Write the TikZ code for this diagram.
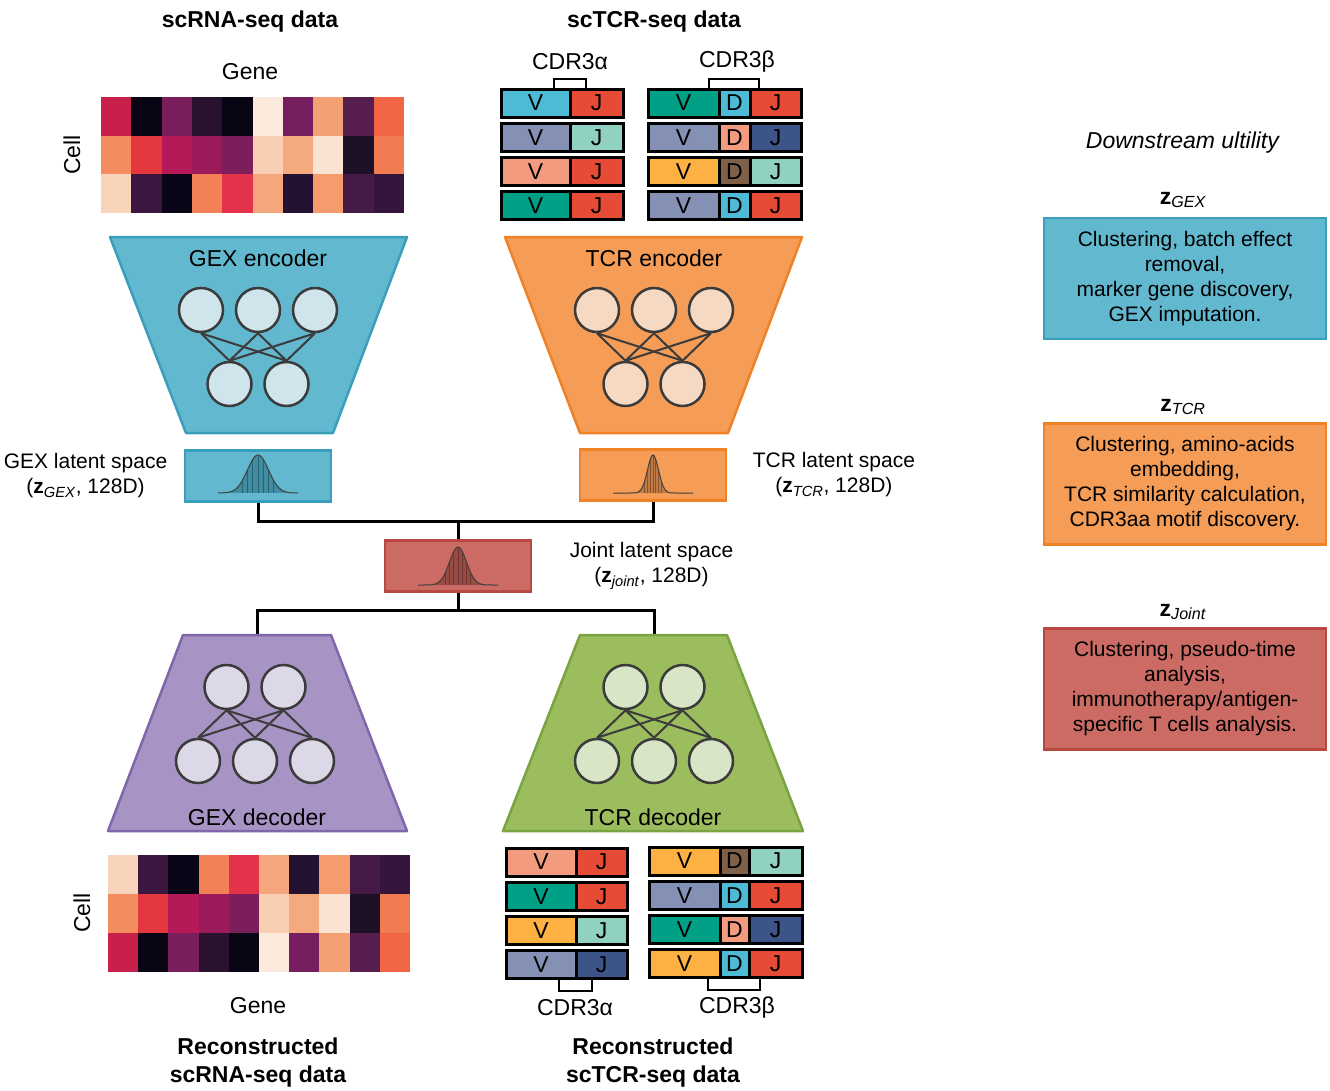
\documentclass[tikz,border=0pt]{standalone}
\usepackage{fontspec}
\setmainfont{Liberation Sans}
\usepackage{tikz}
\usetikzlibrary{positioning}
\definecolor{GexFill}{HTML}{62B8CF}
\definecolor{GexLine}{HTML}{3A9FBB}
\definecolor{GexCell}{HTML}{CFE4EB}
\definecolor{GexBell}{HTML}{3F8CA3}
\definecolor{TcrFill}{HTML}{F59D57}
\definecolor{TcrLine}{HTML}{EF8126}
\definecolor{TcrCell}{HTML}{F6D9C2}
\definecolor{TcrBell}{HTML}{C27A45}
\definecolor{JointFill}{HTML}{CC6B64}
\definecolor{JointLine}{HTML}{B84842}
\definecolor{JointBell}{HTML}{9A4A45}
\definecolor{PurpFill}{HTML}{A894C4}
\definecolor{PurpLine}{HTML}{7F67A9}
\definecolor{PurpCell}{HTML}{DDD8E7}
\definecolor{GreenFill}{HTML}{9CBD5E}
\definecolor{GreenLine}{HTML}{7AA443}
\definecolor{GreenCell}{HTML}{D8E5C6}
\definecolor{NeuronLine}{HTML}{3B3B3B}
\definecolor{SkyV}{HTML}{4DBBD5}
\definecolor{RedJ}{HTML}{E64B35}
\definecolor{TealV}{HTML}{00A087}
\definecolor{PeriV}{HTML}{8491B4}
\definecolor{MintJ}{HTML}{91D1C2}
\definecolor{SalmonV}{HTML}{F39B7F}
\definecolor{NavyJ}{HTML}{3C5488}
\definecolor{OrangeV}{HTML}{FDB143}
\definecolor{BrownD}{HTML}{7E6148}
\tikzset{
  Trap/.style = {line width=2.5pt, line join=round},
  Neuron/.style = {circle, draw=NeuronLine, line width=2.5pt, minimum size=44pt, inner sep=0pt},
  Wire/.style = {draw=NeuronLine, line width=2pt},
  LatBox/.style = {rectangle, line width=2.5pt, minimum width=146pt, minimum height=51pt},
  UseBox/.style = {rectangle, line width=2.5pt, minimum width=282pt, minimum height=121pt, align=center, font=\fontsize{21}{25}\selectfont},
  Seg/.style = {rectangle, draw=black, line width=3pt, minimum height=28pt, inner sep=0pt, outer sep=0pt, anchor=west},
  Link/.style = {draw=black, line width=3pt},
  Bracket/.style = {draw=black, line width=2.5pt},
  Title/.style = {font=\fontsize{23}{28}\selectfont\bfseries, align=center},
  Caption/.style = {font=\fontsize{21}{25}\selectfont, align=center}
}
\newcommand{\Net}[6]{%
  \foreach \i in {1,...,#3}
    \node[Neuron, fill=#6] (#1t\i) at ({#2+(\i-(#3+1)/2)*57},#5) {};
  \foreach \j in {1,...,#4}
    \node[Neuron, fill=#6] (#1b\j) at ({#2+(\j-(#4+1)/2)*57},#5+74) {};
  \foreach \i in {1,...,#3}
    \foreach \j in {1,...,#4}
      \draw[Wire] (#1t\i.south) -- (#1b\j.north);
}
\newcommand{\Bell}[4]{%
  \fill[#4] plot[domain=-40:40, samples=81] ({#1+\x},{#2-38*exp(-0.5*(\x/#3)*(\x/#3))}) -- cycle;
  \foreach \t in {-1.5,-1,...,1.5}
    \draw[#4!70!black, line width=0.6pt] ({#1+#3*\t},#2) -- ({#1+#3*\t},{#2-38*exp(-0.5*\t*\t)});
  \draw[black!75, line width=1pt] plot[domain=-40:40, samples=81] ({#1+\x},{#2-38*exp(-0.5*(\x/#3)*(\x/#3))});
}

\begin{document}
\begin{tikzpicture}[x=1pt, y=-1pt, font=\fontsize{23}{27}\selectfont]
\useasboundingbox (0,0) rectangle (1330,1090);

\node[Title] (rnatitle) at (250,22) {scRNA-seq data};
\node[Title] (tcrtitle) at (654,22) {scTCR-seq data};

% input heatmap
\node (genetop) at (250,72) {Gene};
\node[rotate=90] (celltop) at (72,155) {Cell};
\foreach \row [count=\r] in {{C81F4B,0A0515,7A1F5C,28122E,080514,FBEADB,771E60,F3A073,581D4F,F06544},{F38C5E,E4383E,B51957,9A1A5A,7D1E5C,F8CFB3,F5A97F,FAE3D2,1E1026,F27C52},{F7D4BA,3B1740,0A0618,F38158,E3324A,F4A67C,241230,F59B6C,461A46,34163C}}
  \foreach \hx [count=\k] in \row {
    \definecolor{HeatCell}{HTML}{\hx}
    \fill[HeatCell] ({101+(\k-1)*30.3},{97+(\r-1)*38.7}) rectangle ++(30.5,38.9);
  }

% input TCR chains
\node (cdratop) at (570,62) {CDR3α};
\node (cdrbtop) at (737,62) {CDR3β};
\draw[Bracket] (554,89) |- (586,79) -- (586,89);
\draw[Bracket] (709,89) |- (759,79) -- (759,89);
\foreach \vc/\jc [count=\r] in {SkyV/RedJ, PeriV/MintJ, SalmonV/RedJ, TealV/RedJ} {
  \node[Seg, fill=\vc, minimum width=69pt] (tav\r) at (501,{103+(\r-1)*34.3}) {V};
  \node[Seg, fill=\jc, minimum width=53pt] (taj\r) at (tav\r.east) {J};
}
\foreach \vc/\dc/\jc [count=\r] in {TealV/SkyV/RedJ, PeriV/SalmonV/NavyJ, OrangeV/BrownD/MintJ, PeriV/SkyV/RedJ} {
  \node[Seg, fill=\vc, minimum width=71pt] (tbv\r) at (648,{103+(\r-1)*34.3}) {V};
  \node[Seg, fill=\dc, minimum width=31pt] (tbd\r) at (tbv\r.east) {D};
  \node[Seg, fill=\jc, minimum width=51pt] (tbj\r) at (tbd\r.east) {J};
}

% encoders
\draw[Trap, fill=GexFill, draw=GexLine] (110,237) -- (407,237) -- (333,433) -- (186,433) -- cycle;
\node (gexenc) at (258,258) {GEX encoder};
\Net{ge}{258}{3}{2}{310}{GexCell}
\draw[Trap, fill=TcrFill, draw=TcrLine] (505,237) -- (802,237) -- (728,433) -- (580,433) -- cycle;
\node (tcrenc) at (654,258) {TCR encoder};
\Net{te}{654}{3}{2}{310}{TcrCell}

% latent spaces
\node[LatBox, fill=GexFill, draw=GexLine] (gexlat) at (258,476) {};
\Bell{258}{493}{10.5}{GexBell}
\node[LatBox, fill=TcrFill, draw=TcrLine] (tcrlat) at (653,475) {};
\Bell{653}{493}{5.5}{TcrBell}
\node[LatBox, fill=JointFill, draw=JointLine] (jointlat) at (458,566) {};
\Bell{458}{585}{8.5}{JointBell}
\node[Caption, left=13pt of gexlat] (gexlabel) {GEX latent space\\(\textbf{z}\textsubscript{\textit{GEX}}, 128D)};
\node[Caption, right=22pt of tcrlat] (tcrlabel) {TCR latent space\\(\textbf{z}\textsubscript{\textit{TCR}}, 128D)};
\node[Caption, right=34pt of jointlat] (jointlabel) {Joint latent space\\(\textbf{z}\textsubscript{\textit{joint}}, 128D)};

\coordinate (encjoin) at (458,521);
\coordinate (decjoin) at (458,610);
\coordinate (gexdectop) at (257,635);
\coordinate (tcrdectop) at (654,635);
\draw[Link] (gexlat.south) |- (encjoin) -| (tcrlat.south);
\draw[Link] (encjoin) -- (jointlat.north);
\draw[Link] (jointlat.south) -- (decjoin);
\draw[Link] (gexdectop) |- (decjoin) -| (tcrdectop);

% decoders
\draw[Trap, fill=PurpFill, draw=PurpLine] (183,635) -- (331,635) -- (407,831) -- (108,831) -- cycle;
\node (gexdec) at (257,817) {GEX decoder};
\Net{gd}{255}{2}{3}{687}{PurpCell}
\draw[Trap, fill=GreenFill, draw=GreenLine] (580,635) -- (727,635) -- (803,831) -- (503,831) -- cycle;
\node (tcrdec) at (653,817) {TCR decoder};
\Net{td}{654}{2}{3}{687}{GreenCell}

% reconstructed heatmap
\node[rotate=90] (cellbot) at (82,913) {Cell};
\node (genebot) at (258,1006) {Gene};
\foreach \row [count=\r] in {{F7D4BA,3B1740,0A0618,F38158,E3324A,F4A67C,241230,F59B6C,461A46,34163C},{F38C5E,E4383E,B51957,9A1A5A,7D1E5C,F8CFB3,F5A97F,FAE3D2,1E1026,F27C52},{C81F4B,0A0515,7A1F5C,28122E,080514,FBEADB,771E60,F3A073,581D4F,F06544}}
  \foreach \hx [count=\k] in \row {
    \definecolor{HeatCell}{HTML}{\hx}
    \fill[HeatCell] ({108+(\k-1)*30.2},{855+(\r-1)*39}) rectangle ++(30.4,39.2);
  }

% reconstructed TCR chains
\foreach \vc/\jc [count=\r] in {SalmonV/RedJ, TealV/RedJ, OrangeV/MintJ, PeriV/NavyJ} {
  \node[Seg, fill=\vc, minimum width=70pt] (bav\r) at (506,{862+(\r-1)*34.3}) {V};
  \node[Seg, fill=\jc, minimum width=51pt] (baj\r) at (bav\r.east) {J};
}
\foreach \vc/\dc/\jc [count=\r] in {OrangeV/BrownD/MintJ, PeriV/SkyV/RedJ, TealV/SalmonV/NavyJ, OrangeV/SkyV/RedJ} {
  \node[Seg, fill=\vc, minimum width=71pt] (bbv\r) at (649,{861+(\r-1)*34.3}) {V};
  \node[Seg, fill=\dc, minimum width=29pt] (bbd\r) at (bbv\r.east) {D};
  \node[Seg, fill=\jc, minimum width=53pt] (bbj\r) at (bbd\r.east) {J};
}
\draw[Bracket] (559,979) |- (592,991) -- (592,979);
\draw[Bracket] (708,978) |- (760,990) -- (760,978);
\node (cdrabot) at (575,1008) {CDR3α};
\node (cdrbbot) at (737,1008) {CDR3β};

\node[Title] (rnarec) at (258,1063) {Reconstructed\\scRNA-seq data};
\node[Title] (tcrrec) at (653,1063) {Reconstructed\\scTCR-seq data};

% downstream utility
\node (usetitle) at (1183,143) {\textit{Downstream ultility}};
\node (zgex) at (1183,200) {\textbf{z}\textsubscript{\textit{GEX}}};
\node[UseBox, fill=GexFill, draw=GexLine] (usegex) at (1185,278.5) {Clustering, batch effect\\removal,\\marker gene discovery,\\GEX imputation.};
\node (ztcr) at (1183,407) {\textbf{z}\textsubscript{\textit{TCR}}};
\node[UseBox, fill=TcrFill, draw=TcrLine] (usetcr) at (1185,484) {Clustering, amino-acids\\embedding,\\TCR similarity calculation,\\CDR3aa motif discovery.};
\node (zjoint) at (1183,612) {\textbf{z}\textsubscript{\textit{Joint}}};
\node[UseBox, fill=JointFill, draw=JointLine] (usejoint) at (1185,689) {Clustering, pseudo-time\\analysis,\\immunotherapy/antigen-\\specific T cells analysis.};
\end{tikzpicture}
\end{document}
